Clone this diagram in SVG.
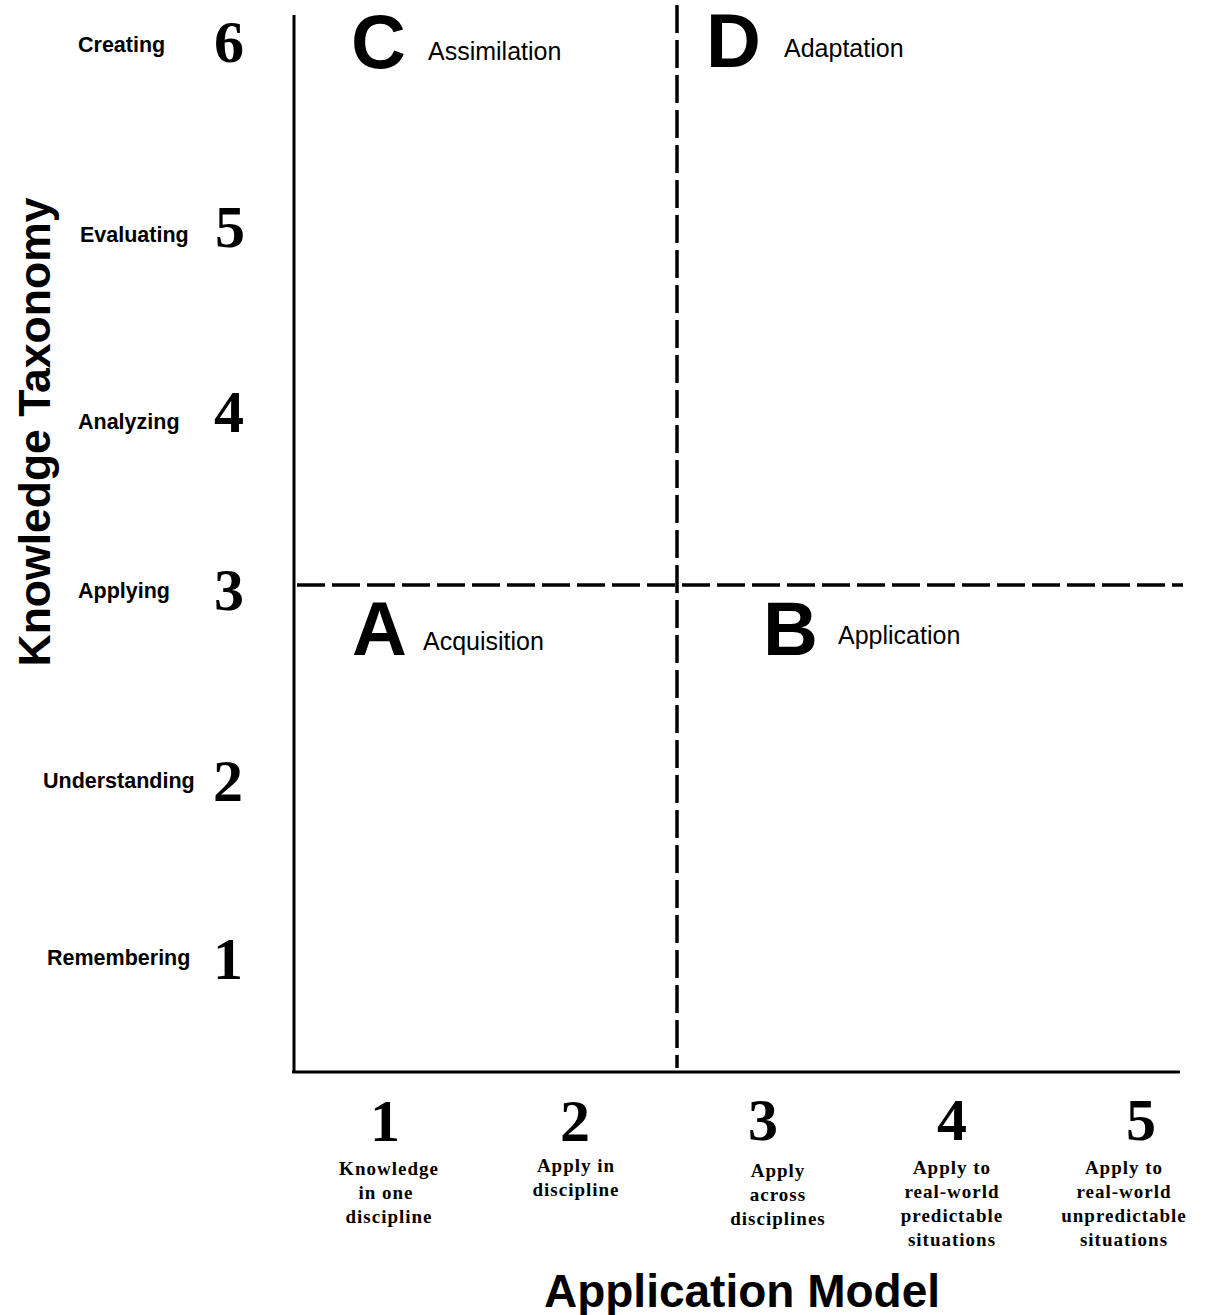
<svg xmlns="http://www.w3.org/2000/svg" width="1208" height="1315" viewBox="0 0 1208 1315">
<style>
.axis{stroke:#000;stroke-width:3;fill:none}
.dash{stroke:#000;stroke-width:3.5;fill:none;stroke-dasharray:28 7}
.lvl{font-family:"Liberation Sans",Arial,sans-serif;font-weight:bold;font-size:21.5px;fill:#000}
.num{font-family:"Liberation Serif","Times New Roman",serif;font-weight:bold;font-size:60px;fill:#000}
.big{font-family:"Liberation Sans",Arial,sans-serif;font-weight:bold;font-size:76px;fill:#000}
.qt{font-family:"Liberation Sans",Arial,sans-serif;font-size:25px;fill:#000}
.title{font-family:"Liberation Sans",Arial,sans-serif;font-weight:bold;font-size:46px;fill:#000}
.ytitle{font-family:"Liberation Sans",Arial,sans-serif;font-weight:bold;font-size:44.5px;fill:#000}
.desc{font-family:"Liberation Serif","Times New Roman",serif;font-weight:bold;font-size:19px;letter-spacing:1px;fill:#000;text-anchor:middle}
.bnum{font-family:"Liberation Serif","Times New Roman",serif;font-weight:bold;font-size:60px;fill:#000;text-anchor:middle}
</style>
<rect width="1208" height="1315" fill="#fff"/>
<g id="connectors">
  <line class="axis" x1="294" y1="15" x2="294" y2="1073"/>
  <line class="axis" x1="292" y1="1072" x2="1180" y2="1072"/>
  <line class="dash" x1="677" y1="5" x2="677" y2="1068"/>
  <line class="dash" x1="297" y1="585" x2="1183" y2="585"/>
</g>
<g id="y-title"><text class="ytitle" text-anchor="middle" transform="translate(50,432) rotate(-90)">Knowledge Taxonomy</text></g>
<g id="level-6"><text class="lvl" x="78" y="52">Creating</text><text class="num" x="229" y="62" text-anchor="middle">6</text></g>
<g id="level-5"><text class="lvl" x="80" y="242">Evaluating</text><text class="num" x="230" y="247" text-anchor="middle">5</text></g>
<g id="level-4"><text class="lvl" x="78" y="429">Analyzing</text><text class="num" x="229" y="432" text-anchor="middle">4</text></g>
<g id="level-3"><text class="lvl" x="78" y="598">Applying</text><text class="num" x="229" y="610" text-anchor="middle">3</text></g>
<g id="level-2"><text class="lvl" x="43" y="788">Understanding</text><text class="num" x="228" y="801" text-anchor="middle">2</text></g>
<g id="level-1"><text class="lvl" x="47" y="965">Remembering</text><text class="num" x="228" y="979" text-anchor="middle">1</text></g>
<g id="quadrant-C"><text class="big" x="351" y="68">C</text><text class="qt" x="428" y="60">Assimilation</text></g>
<g id="quadrant-D"><text class="big" x="706" y="67">D</text><text class="qt" x="784" y="57">Adaptation</text></g>
<g id="quadrant-A"><text class="big" x="352" y="655">A</text><text class="qt" x="423" y="650">Acquisition</text></g>
<g id="quadrant-B"><text class="big" x="763" y="655">B</text><text class="qt" x="838" y="644">Application</text></g>
<g id="app-1"><text class="bnum" x="385" y="1141">1</text><text class="desc" x="389" y="1175">Knowledge</text><text class="desc" x="386" y="1199">in one</text><text class="desc" x="389" y="1223">discipline</text></g>
<g id="app-2"><text class="bnum" x="575" y="1141">2</text><text class="desc" x="576" y="1172">Apply in</text><text class="desc" x="576" y="1196">discipline</text></g>
<g id="app-3"><text class="bnum" x="763" y="1140">3</text><text class="desc" x="778" y="1177">Apply</text><text class="desc" x="778" y="1201">across</text><text class="desc" x="778" y="1225">disciplines</text></g>
<g id="app-4"><text class="bnum" x="952" y="1140">4</text><text class="desc" x="952" y="1174">Apply to</text><text class="desc" x="952" y="1198">real-world</text><text class="desc" x="952" y="1222">predictable</text><text class="desc" x="952" y="1246">situations</text></g>
<g id="app-5"><text class="bnum" x="1141" y="1140">5</text><text class="desc" x="1124" y="1174">Apply to</text><text class="desc" x="1124" y="1198">real-world</text><text class="desc" x="1124" y="1222">unpredictable</text><text class="desc" x="1124" y="1246">situations</text></g>
<g id="x-title"><text class="title" x="742" y="1307" text-anchor="middle">Application Model</text></g>
</svg>
